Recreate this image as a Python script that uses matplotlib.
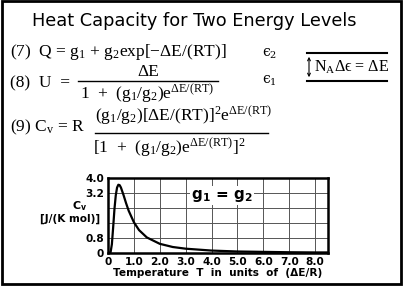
import numpy as np
import matplotlib.pyplot as plt
from matplotlib.patches import Rectangle, FancyArrowPatch
from matplotlib.lines import Line2D

# Cv curve (g1 = g2)
temp = [0.0, 0.1, 0.15, 0.2, 0.25, 0.3, 0.35, 0.4, 0.45, 0.5, 0.6, 0.7, 0.8,
        1.0, 1.2, 1.5, 2.0, 2.5, 3.0, 4.0, 5.0, 6.0, 7.0, 8.0, 8.5]
cv = [0.0, 0.04, 0.47, 1.38, 2.35, 3.07, 3.49, 3.64, 3.62, 3.49, 3.09, 2.65, 2.25,
      1.64, 1.22, 0.83, 0.49, 0.32, 0.23, 0.13, 0.08, 0.06, 0.04, 0.03, 0.03]
xticks = [0, 1, 2, 3, 4, 5, 6, 7, 8]
xlabels = ['0', '1.0', '2.0', '3.0', '4.0', '5.0', '6.0', '7.0', '8.0']
yticks = [0, 0.8, 1.6, 2.4, 3.2, 4.0]
ylabels = ['0', '0.8', '', '', '3.2', '4.0']

plt.rcParams['mathtext.default'] = 'regular'

W, H = 403, 286
fig = plt.figure(figsize=(W / 100, H / 100), dpi=100)

def px(x, y):
    return x / W, 1 - y / H

def txt(x, y, s, **kw):
    kw.setdefault('family', 'Liberation Serif')
    kw.setdefault('fontsize', 12.5)
    kw.setdefault('va', 'center')
    fig.text(*px(x, y), s, **kw)

def hline(x0, x1, y, lw=1.0):
    a, b = px(x0, y)
    c, _ = px(x1, y)
    fig.add_artist(Line2D([a, c], [b, b], color='black', lw=lw, transform=fig.transFigure))

# border
fig.add_artist(Rectangle((0.004, 0.006), 0.992, 0.99, fill=False, lw=2,
                         edgecolor='black', transform=fig.transFigure))

# title
txt(194, 21, 'Heat Capacity for Two Energy Levels', family='DejaVu Sans',
    fontsize=12.8, ha='center')

# equations
txt(10, 52, '(7)  Q = $g_1$ + $g_2$exp[\u2212\u0394E/(RT)]')
txt(10, 83, '(8)  U  = ')
txt(148, 72, '\u0394E', ha='center')
hline(78, 218, 81)
txt(80, 94, '1  +  ($g_1$/$g_2$)e$^{\u0394E/(RT)}$')

txt(10, 127, '(9) $C_v$ = R')
txt(95, 116, '($g_1$/$g_2$)[\u0394E/(RT)]$^2$e$^{\u0394E/(RT)}$')
hline(95, 268, 133)
txt(93, 148, '[1  +  ($g_1$/$g_2$)e$^{\u0394E/(RT)}$]$^2$')

# energy level diagram
txt(262, 54, '\u03f5$_2$', family='DejaVu Serif', fontsize=10)
txt(262, 81, '\u03f5$_1$', family='DejaVu Serif', fontsize=10)
hline(307, 387, 53, lw=1.5)
hline(307, 387, 81, lw=1.5)
fig.add_artist(FancyArrowPatch(
    px(309, 54), px(309, 80), arrowstyle='<->', mutation_scale=5, lw=0.8,
    color='black', transform=fig.transFigure))
txt(314, 67, '$N_A$\u0394\u03f5 = \u0394E', fontsize=11.5)

# plot
ax = fig.add_axes([108 / W, 1 - 253 / H, 220 / W, 75 / H])
ax.plot(temp, cv, color='black', lw=1.6)
ax.set_xlim(0, 8.5)
ax.set_ylim(0, 4.0)
ax.set_xticks(xticks)
ax.set_xticklabels(xlabels)
ax.set_yticks(yticks)
ax.set_yticklabels(ylabels)
ax.tick_params(length=0, labelsize=7.6, pad=3)
for lab in ax.get_xticklabels() + ax.get_yticklabels():
    lab.set_fontweight('bold')
ax.grid(True, color='#555555', lw=0.7)
for s in ax.spines.values():
    s.set_linewidth(1.8)
ax.text(4.4, 3.05, '$g_1$ = $g_2$', fontsize=11, fontweight='bold', ha='center',
        va='center', bbox=dict(facecolor='white', edgecolor='none', pad=1))

fig.text(*px(80, 206), '$C_v$', fontsize=8, fontweight='bold', ha='center', va='center')
fig.text(*px(70, 219), '[J/(K mol)]', fontsize=7.6, fontweight='bold', ha='center', va='center')
fig.text(*px(218, 273), 'Temperature  T  in  units  of  (\u0394E/R)', fontsize=7.6,
         fontweight='bold', ha='center', va='center')

plt.savefig('out.png', dpi=100)
